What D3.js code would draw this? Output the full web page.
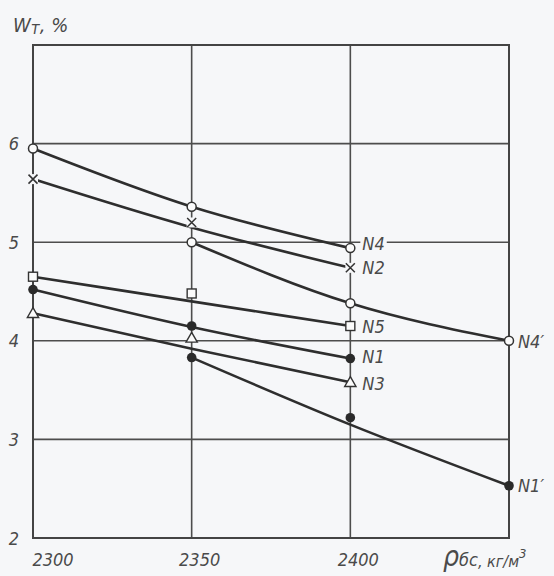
<!DOCTYPE html>
<html>
<head>
<meta charset="utf-8">
<script src="https://cdn.jsdelivr.net/npm/d3@7"></script>
<style>
  body { margin: 0; background: #f6f7f9; }
  svg text { font-family: "DejaVu Sans Condensed", "DejaVu Sans", sans-serif; font-style: italic; fill: #4a4a4a; }
</style>
</head>
<body>
<svg id="chart" width="554" height="576"></svg>
<script>
// density, kg/m3
var xTicks = [2300, 2350, 2400];
var yTicks = [2, 3, 4, 5, 6];
var rhoA = [2300, 2350, 2400];
var rhoB = [2350, 2400, 2450];

// measured points (marks) and drawn curves (line), W, %
var n4Marks = [5.95, 5.36, 4.94],  n4Line = [5.95, 5.36, 4.94];
var n2Marks = [5.64, 5.20, 4.74],  n2Line = [5.64, 5.15, 4.74];
var n5Marks = [4.65, 4.48, 4.15],  n5Line = [4.65, 4.40, 4.15];
var n1Marks = [4.52, 4.15, 3.82],  n1Line = [4.52, 4.14, 3.82];
var n3Marks = [4.28, 4.03, 3.58],  n3Line = [4.28, 3.92, 3.58];
var n4pMarks = [5.00, 4.38, 4.00], n4pLine = [5.00, 4.38, 4.00];
var n1pMarks = [3.83, 3.22, 2.53], n1pLine = [3.83, 3.15, 2.53];

var series = [
  { name: "N4",  rho: rhoA, marks: n4Marks,  line: n4Line,  sym: "circle" },
  { name: "N2",  rho: rhoA, marks: n2Marks,  line: n2Line,  sym: "cross" },
  { name: "N5",  rho: rhoA, marks: n5Marks,  line: n5Line,  sym: "square" },
  { name: "N1",  rho: rhoA, marks: n1Marks,  line: n1Line,  sym: "dot" },
  { name: "N3",  rho: rhoA, marks: n3Marks,  line: n3Line,  sym: "triangle" },
  { name: "N4′", rho: rhoB, marks: n4pMarks, line: n4pLine, sym: "circle" },
  { name: "N1′", rho: rhoB, marks: n1pMarks, line: n1pLine, sym: "dot" }
];

var svg = d3.select("#chart");
var pLeft = 33, pRight = 509, pTop = 45, pBottom = 538;

var x = d3.scaleLinear().domain([2300, 2450]).range([pLeft, pRight]);
var y = d3.scaleLinear().domain([2, 7]).range([pBottom, pTop]);

var grid = svg.append("g").attr("stroke", "#4d4d4d").attr("stroke-width", 1.6);
// horizontal grid
grid.selectAll(".h").data(yTicks.filter(function(d){ return d > 2; })).enter()
  .append("line")
  .attr("x1", pLeft).attr("x2", pRight)
  .attr("y1", function(d){ return y(d); }).attr("y2", function(d){ return y(d); });
// vertical grid
grid.selectAll(".v").data(xTicks.slice(1)).enter()
  .append("line")
  .attr("x1", function(d){ return x(d); }).attr("x2", function(d){ return x(d); })
  .attr("y1", pTop).attr("y2", pBottom);

// frame
svg.append("rect")
  .attr("x", pLeft).attr("y", pTop)
  .attr("width", pRight - pLeft).attr("height", pBottom - pTop)
  .attr("fill", "none").attr("stroke", "#444").attr("stroke-width", 2);

// curves
var lineGen = d3.line()
  .x(function(d){ return x(d[0]); })
  .y(function(d){ return y(d[1]); })
  .curve(d3.curveMonotoneX);

svg.append("g").selectAll("path").data(series).enter()
  .append("path")
  .attr("d", function(s){ return lineGen(s.rho.map(function(r, i){ return [r, s.line[i]]; })); })
  .attr("fill", "none").attr("stroke", "#2e2e2e").attr("stroke-width", 2.6);

// labels for series ends
var labelShift = { "N4": [12, -5], "N2": [12, 0], "N5": [12, 0], "N1": [12, -2], "N3": [12, 1], "N4′": [9, 1], "N1′": [9, 0] };
var lab = svg.append("g");
series.forEach(function(s) {
  var last = s.marks.length - 1;
  var sh = labelShift[s.name];
  var t = lab.append("text")
    .attr("x", x(s.rho[last]) + sh[0])
    .attr("y", y(s.marks[last]) + sh[1])
    .attr("dominant-baseline", "central")
    .attr("font-size", 18)
    .text(s.name);
  var bb = t.node().getBBox();
  lab.insert("rect", "text")
    .attr("x", bb.x - 2).attr("y", bb.y + 3)
    .attr("width", bb.width + 4).attr("height", bb.height - 6)
    .attr("fill", "#f6f7f9");
});

// markers
var mk = svg.append("g");
series.forEach(function(s) {
  s.marks.forEach(function(v, i) {
    var cx = x(s.rho[i]), cy = y(v);
    if (s.sym === "circle") {
      mk.append("circle").attr("cx", cx).attr("cy", cy).attr("r", 4.5)
        .attr("fill", "#fbfbfb").attr("stroke", "#333").attr("stroke-width", 1.5);
    } else if (s.sym === "dot") {
      mk.append("circle").attr("cx", cx).attr("cy", cy).attr("r", 4.8)
        .attr("fill", "#2a2a2a");
    } else if (s.sym === "square") {
      mk.append("rect").attr("x", cx - 4.5).attr("y", cy - 4.5).attr("width", 9).attr("height", 9)
        .attr("fill", "#fbfbfb").attr("stroke", "#333").attr("stroke-width", 1.4);
    } else if (s.sym === "triangle") {
      mk.append("path").attr("d", d3.symbol(d3.symbolTriangle, 55)())
        .attr("transform", "translate(" + cx + "," + (cy + 1) + ")")
        .attr("fill", "#fbfbfb").attr("stroke", "#333").attr("stroke-width", 1.4);
    } else if (s.sym === "cross") {
      mk.append("rect").attr("x", cx - 5).attr("y", cy - 5).attr("width", 10).attr("height", 10)
        .attr("fill", "#f6f7f9");
      mk.append("path").attr("d", "M-4.5,-4.5L4.5,4.5M-4.5,4.5L4.5,-4.5")
        .attr("transform", "translate(" + cx + "," + cy + ")")
        .attr("stroke", "#333").attr("stroke-width", 1.5);
    }
  });
});

// tick labels
svg.append("g").selectAll("text").data(yTicks).enter()
  .append("text")
  .attr("x", 14).attr("y", function(d){ return y(d); })
  .attr("text-anchor", "middle").attr("dominant-baseline", "central")
  .attr("font-size", 18)
  .text(function(d){ return d; });

svg.append("g").selectAll("text").data(xTicks).enter()
  .append("text")
  .attr("x", function(d, i){ return i === 0 ? x(d) + 20 : x(d) + 8; })
  .attr("y", 566)
  .attr("text-anchor", "middle")
  .attr("font-size", 18)
  .text(function(d){ return d; });

// axis titles
var yt = svg.append("text").attr("x", 13).attr("y", 32).attr("font-size", 20);
yt.append("tspan").text("W");
yt.append("tspan").attr("font-size", 17).attr("dy", 2).text("т");
yt.append("tspan").attr("dy", -2).text(", %");

var xt = svg.append("text").attr("x", 443).attr("y", 566).attr("font-size", 28);
xt.append("tspan").text("ρ");
xt.append("tspan").attr("font-size", 18).attr("dy", 0).text("бс");
xt.append("tspan").attr("font-size", 16).attr("dy", 1).text(", кг/м");
xt.append("tspan").attr("font-size", 13).attr("dy", -9).text("3");
</script>
</body>
</html>
